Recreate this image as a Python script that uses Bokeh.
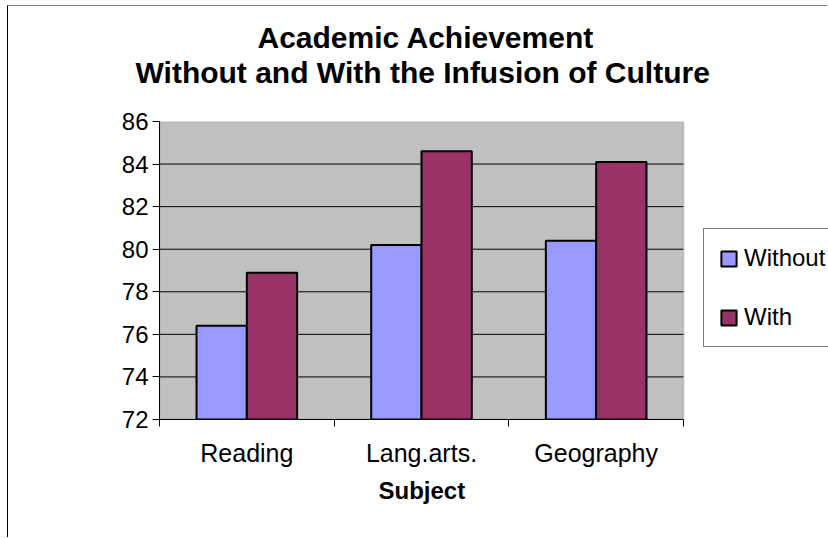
from bokeh.plotting import figure
from bokeh.models import (Range1d, FixedTicker, Legend, LegendItem, Title,
                          ColumnDataSource, BoxAnnotation)
from bokeh.transform import dodge
from bokeh.embed import file_html
from bokeh.resources import INLINE

categories = ["Reading", "Lang.arts.", "Geography"]
without_vals = [76.4, 80.2, 80.4]
with_vals = [78.9, 84.6, 84.1]
y_ticks = [72, 74, 76, 78, 80, 82, 84, 86]

FONT = "Liberation Sans"

n = len(categories)
xs = [i + 0.5 for i in range(n)]
src = ColumnDataSource(dict(x=xs, without=without_vals, with_=with_vals))

W, H = 820, 532
LEFT, TOP, BOTTOM = 151, 115, 119
PLOT_W = 524  # width of the grey plot area in px
x_end = n * (W - LEFT) / PLOT_W  # frame reaches canvas edge so legend can sit outside grey area

p = figure(width=W, height=H, output_backend="svg", toolbar_location=None,
           x_range=Range1d(0, x_end), y_range=Range1d(y_ticks[0], y_ticks[-1]),
           min_border_left=LEFT, min_border_right=0,
           min_border_top=TOP, min_border_bottom=BOTTOM)

p.background_fill_color = "white"
p.border_fill_color = "white"
p.outline_line_color = None
p.styles = {"margin-left": "7px", "margin-top": "5px",
            "border-left": "1px solid black", "border-top": "1px solid #808080"}

# grey plot area
p.add_layout(BoxAnnotation(left=0, right=n, bottom=y_ticks[0], top=y_ticks[-1],
                           fill_color="#C0C0C0", fill_alpha=1,
                           line_color="#808080", line_width=2, level="underlay"))

# horizontal gridlines restricted to the plot area
p.segment(x0=[0] * (len(y_ticks) - 2), x1=[n] * (len(y_ticks) - 2),
          y0=y_ticks[1:-1], y1=y_ticks[1:-1], line_color="black", line_width=1)

bw = 0.288
r1 = p.vbar(x=dodge("x", -bw / 2, range=p.x_range), top="without", bottom=y_ticks[0],
            width=bw, source=src, fill_color="#9999FF", line_color="black",
            line_width=2)
r2 = p.vbar(x=dodge("x", bw / 2, range=p.x_range), top="with_", bottom=y_ticks[0],
            width=bw, source=src, fill_color="#993366", line_color="black",
            line_width=2)

p.xgrid.grid_line_color = None
p.ygrid.grid_line_color = None

# y axis
p.yaxis.ticker = FixedTicker(ticks=y_ticks)
p.yaxis.major_tick_out = 7
p.yaxis.major_tick_in = 0
p.yaxis.minor_tick_line_color = None
p.yaxis.axis_line_color = "black"
p.yaxis.major_tick_line_color = "black"
p.yaxis.major_label_text_font = FONT
p.yaxis.major_label_text_font_size = "24px"
p.yaxis.major_label_text_color = "black"
p.yaxis.major_label_standoff = 4

# x axis: labels at centers, ticks at category boundaries
p.xaxis.bounds = (0, n)
p.xaxis.ticker = FixedTicker(ticks=xs, minor_ticks=list(range(n + 1)))
p.xaxis.major_label_overrides = {x: c for x, c in zip(xs, categories)}
p.xaxis.major_tick_line_color = None
p.xaxis.minor_tick_line_color = "black"
p.xaxis.minor_tick_out = 7
p.xaxis.minor_tick_in = 0
p.xaxis.axis_line_color = "black"
p.xaxis.major_label_text_font = FONT
p.xaxis.major_label_text_font_size = "25px"
p.xaxis.major_label_text_color = "black"
p.xaxis.major_label_standoff = 12

# x axis title, centred under the grey plot area
xlabel = Title(text="Subject", align="left", offset=219, vertical_align="top",
               text_font=FONT, text_font_size="24px", text_font_style="bold",
               text_color="black", standoff=14)
p.add_layout(xlabel, "below")

# titles (first added sits closest to the plot)
spacer = Title(text=" ", text_font_size="10px", standoff=20)
t2 = Title(text="Without and With the Infusion of Culture", align="left",
           offset=-24, text_font=FONT, text_font_size="30px",
           text_font_style="bold", text_color="black", standoff=0)
t1 = Title(text="Academic Achievement", align="left", offset=98,
           text_font=FONT, text_font_size="30px", text_font_style="bold",
           text_color="black", standoff=0)
p.add_layout(spacer, "above")
p.add_layout(t2, "above")
p.add_layout(t1, "above")

legend = Legend(items=[LegendItem(label="Without", renderers=[r1]),
                       LegendItem(label="With", renderers=[r2])],
                location=(544, 72), padding=15, spacing=31,
                glyph_width=19, glyph_height=19, label_height=19,
                label_standoff=6, border_line_color="black",
                border_line_width=1, background_fill_color="white",
                background_fill_alpha=1,
                label_text_font=FONT, label_text_font_size="24px",
                label_text_color="black", margin=0)
p.add_layout(legend, "center")

open("out.html", "w").write(file_html(p, INLINE))
